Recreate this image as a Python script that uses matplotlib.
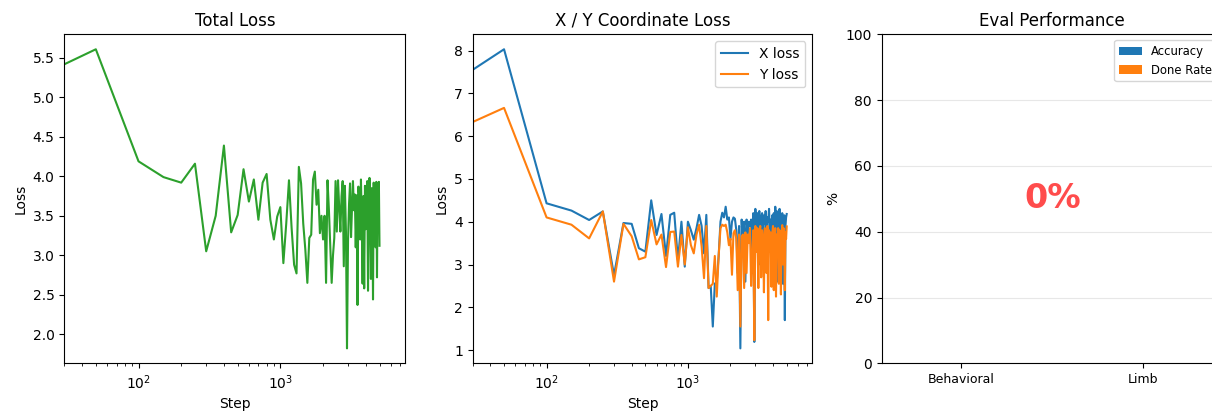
import matplotlib
matplotlib.use('Agg')
import matplotlib.pyplot as plt
import numpy as np

# training steps (first point sits on the left edge of the log axis)
steps = [30] + list(range(50, 5001, 50))

total_loss = [5.42, 5.61, 4.19, 3.99, 3.92, 4.16, 3.05, 3.50, 4.39, 3.29,
              3.51, 4.09, 3.68, 3.96, 3.45, 3.92, 4.03, 3.45, 3.20, 3.49,
              3.61, 2.90, 3.40, 3.95, 3.35, 2.88, 2.77, 4.12, 3.91, 3.40,
              3.07, 2.65, 3.22, 3.26, 3.96, 4.06, 3.64, 3.83, 3.28, 3.50,
              3.20, 3.50, 2.65, 3.95, 3.57, 3.10, 2.65, 3.00, 3.22, 3.94,
              3.30, 3.95, 3.60, 3.30, 3.75, 3.94, 2.86, 3.88, 3.30, 1.82,
              3.19, 3.65, 3.91, 3.23, 3.60, 3.94, 3.57, 3.77, 3.10, 3.76,
              2.37, 3.87, 3.70, 3.20, 3.96, 3.40, 2.64, 3.75, 2.58, 3.88,
              3.33, 3.70, 3.94, 2.55, 3.60, 3.98, 3.50, 2.70, 3.85, 3.60,
              2.44, 3.92, 3.40, 3.85, 3.10, 3.93, 2.72, 3.88, 3.50, 3.93,
              3.12]

x_loss = [7.55, 8.03, 4.43, 4.26, 4.04, 4.24, 2.75, 3.97, 3.95, 3.38,
          3.30, 4.50, 3.69, 4.18, 3.20, 4.16, 4.21, 3.10, 4.00, 2.95,
          4.00, 3.80, 3.58, 3.85, 4.16, 3.90, 3.26, 4.16, 2.45, 2.50,
          1.55, 2.55, 2.60, 3.20, 4.00, 4.21, 4.10, 4.35, 4.05, 4.10,
          3.60, 4.00, 4.10, 4.07, 3.80, 2.80, 3.90, 1.04, 4.05, 3.40,
          4.00, 2.60, 4.05, 3.70, 4.00, 3.90, 4.05, 2.80, 4.20, 1.19,
          4.30, 3.90, 4.20, 3.60, 4.25, 3.00, 4.10, 4.20, 3.40, 4.15,
          3.95, 4.25, 3.10, 4.10, 4.00, 4.30, 3.70, 4.05, 3.30, 4.15,
          3.95, 4.20, 2.60, 4.35, 3.90, 4.25, 2.60, 4.10, 3.80, 4.30,
          3.20, 4.05, 3.90, 4.20, 2.55, 4.00, 4.15, 1.70, 3.90, 4.10,
          4.18]

y_loss = [6.33, 6.66, 4.10, 3.93, 3.61, 4.24, 2.60, 3.95, 3.66, 3.12,
          3.17, 4.04, 3.47, 3.70, 2.94, 3.76, 3.77, 2.95, 3.69, 3.00,
          3.87, 3.45, 3.26, 3.70, 3.93, 3.42, 2.68, 3.90, 2.45, 2.50,
          2.55, 3.20, 2.25, 3.20, 3.85, 3.93, 3.90, 3.93, 3.75, 3.45,
          3.60, 2.76, 3.73, 3.80, 3.60, 2.40, 3.70, 1.55, 3.65, 3.70,
          2.45, 3.75, 2.80, 3.70, 3.50, 3.85, 2.50, 3.20, 3.80, 1.23,
          3.90, 3.30, 3.85, 2.45, 3.75, 3.90, 2.70, 3.80, 3.60, 2.35,
          3.85, 3.70, 2.80, 3.90, 1.70, 3.80, 3.30, 3.75, 2.48, 3.70,
          3.90, 2.40, 3.60, 3.85, 2.25, 3.70, 3.40, 3.85, 2.55, 3.80,
          3.60, 2.30, 3.70, 3.92, 3.00, 3.85, 3.50, 2.40, 3.75, 3.60,
          3.89]

# eval results
eval_names = ['Behavioral', 'Limb']
accuracy = [0, 0]
done_rate = [0, 0]

fig = plt.figure(figsize=(12.12, 4.11), dpi=100)
ax1 = fig.add_axes([0.0531, 0.116, 0.2813, 0.8005])
ax2 = fig.add_axes([0.3900, 0.116, 0.2803, 0.8005])
ax3 = fig.add_axes([0.7275, 0.116, 0.2813, 0.8005])

ax1.plot(steps, total_loss, color='tab:green')
ax1.set_xscale('log')
ax1.set_xlim(30, 7600)
ax1.set_title('Total Loss')
ax1.set_xlabel('Step')
ax1.set_ylabel('Loss')

ax2.plot(steps, x_loss, color='tab:blue', label='X loss')
ax2.plot(steps, y_loss, color='tab:orange', label='Y loss')
ax2.set_xscale('log')
ax2.set_xlim(30, 7600)
ax2.set_title('X / Y Coordinate Loss')
ax2.set_xlabel('Step')
ax2.set_ylabel('Loss')
ax2.legend(loc='upper right')

w = 0.35
xpos = np.arange(len(eval_names))
ax3.bar(xpos - w / 2, accuracy, w, color='tab:blue', label='Accuracy')
ax3.bar(xpos + w / 2, done_rate, w, color='tab:orange', label='Done Rate')
ax3.set_xticks(xpos)
ax3.set_xticklabels(eval_names, fontsize=9)
ax3.set_ylim(0, 100)
ax3.set_ylabel('%')
ax3.set_title('Eval Performance')
ax3.grid(axis='y', alpha=0.3)
ax3.set_axisbelow(True)
ax3.legend(loc='upper right', fontsize='small')
ax3.text(0.5, 0.5, '0%', transform=ax3.transAxes, ha='center', va='center',
         fontsize=24, fontweight='bold', color='red', alpha=0.7)

plt.savefig('out.png', dpi=100)
